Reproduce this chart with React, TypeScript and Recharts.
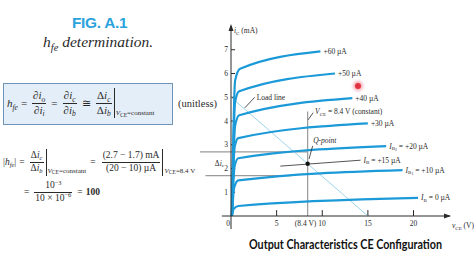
import React from "react";
import { LineChart, Line, XAxis, YAxis, ReferenceLine, ReferenceDot } from "recharts";

// collector curves, v = vCE (V), i = iC (mA)
const ib60 = [{ v: 0.1, i: 0 }, { v: 0.45, i: 5.7 }, { v: 1, i: 6.2 }, { v: 9.8, i: 6.93 }];
const ib50 = [{ v: 0.1, i: 0 }, { v: 0.45, i: 4.8 }, { v: 0.9, i: 5.25 }, { v: 11.4, i: 6.0 }];
const ib40 = [{ v: 0.1, i: 0 }, { v: 0.45, i: 3.8 }, { v: 0.9, i: 4.24 }, { v: 13.3, i: 4.96 }];
const ib30 = [{ v: 0.1, i: 0 }, { v: 0.4, i: 2.9 }, { v: 0.8, i: 3.28 }, { v: 15, i: 3.9 }];
const ib20 = [{ v: 0.1, i: 0 }, { v: 0.4, i: 2.1 }, { v: 0.8, i: 2.43 }, { v: 17, i: 2.94 }];
const ib10 = [{ v: 0.1, i: 0 }, { v: 0.35, i: 1.2 }, { v: 0.8, i: 1.5 }, { v: 18.8, i: 1.93 }];
const ib0 = [{ v: 0.1, i: 0 }, { v: 0.3, i: 0.3 }, { v: 0.8, i: 0.42 }, { v: 20.5, i: 0.76 }];
const ib15 = [{ v: 5.4, i: 2.1 }, { v: 14.2, i: 2.35 }];

const loadLine = [{ v: 0, i: 5 }, { v: 15, i: 0 }];
const qPoint = { v: 8.4, i: 2.2 };
const deltaLevels = [2.7, 1.7];
const deltaStarts = [-3.4, -2.8];
const deltaEnds = [8.4, 6.5];

const xTicks = [0, 5, 10, 15, 20];
const yTicks = [1, 2, 3, 4, 5, 6, 7];

const curveData = [ib60, ib50, ib40, ib30, ib20, ib10, ib0];
const curvePrefix = [null, null, null, null, "2", "1", ""];
const curveText = ["+60 µA", "+50 µA", "+40 µA", "+30 µA", " = +20 µA", " = +10 µA", " = 0 µA"];

const blue = "#1c9ad8";
const ink = "#2a2a2a";
const grey = "#9a9a9a";
const serif = '"Liberation Serif", "DejaVu Serif", serif';

function Sub({ children, size = "0.68em" }: any) {
  return <span style={{ fontSize: size, position: "relative", top: "0.35em" }}>{children}</span>;
}
function Sup({ children }: any) {
  return <span style={{ fontSize: "0.68em", position: "relative", top: "-0.5em" }}>{children}</span>;
}
function Frac({ num, den }: any) {
  return (
    <span style={{ display: "inline-flex", flexDirection: "column", alignItems: "stretch", margin: "0 2px" }}>
      <span style={{ lineHeight: 1.2, padding: "0 1px", textAlign: "center" }}>{num}</span>
      <span style={{ borderTop: `1px solid ${ink}`, lineHeight: 1.2, padding: "0 1px", textAlign: "center" }}>{den}</span>
    </span>
  );
}
function Eval({ h, children }: any) {
  return (
    <span style={{ display: "inline-flex", alignItems: "flex-end", height: h, borderLeft: `1px solid ${ink}`, paddingLeft: 1 }}>
      <span style={{ fontSize: 7, lineHeight: 1, marginBottom: 1 }}>{children}</span>
    </span>
  );
}
const Op = ({ children, m = 3 }: any) => <span style={{ margin: `0 ${m}px` }}>{children}</span>;

function label(lines: any) {
  return (p: any) => (
    <text x={p.cx} y={p.cy} fontFamily={serif} fontSize={7.5} fill={ink}>
      {lines}
    </text>
  );
}

function renderXTick(p: any) {
  const v = p.payload.value;
  const common = { y: p.y, dy: "0.71em", fontFamily: serif, fontSize: 7.5, fill: ink } as any;
  if (v === 10)
    return <text {...common} x={p.x + 3.5} textAnchor="end">(8.4 V) 10</text>;
  if (v === 0)
    return <text {...common} x={p.x - 3} textAnchor="middle">0</text>;
  return <text {...common} x={p.x} textAnchor="middle">{v}</text>;
}

export default function App() {
  return (
    <div style={{ position: "fixed", left: 0, top: 0, width: 474, height: 266, background: "#fff", overflow: "hidden", color: ink, fontFamily: serif }}>
      <LineChart width={474} height={266} margin={{ top: 26, right: 24, bottom: 30, left: 211 }} style={{ position: "absolute", left: 0, top: 0 }}>
        <XAxis type="number" dataKey="v" domain={[0, 24]} ticks={xTicks} interval={0} height={20}
          axisLine={{ stroke: ink }} tickLine={false} tickSize={0} tickMargin={5} tick={renderXTick} />
        <YAxis type="number" dataKey="i" domain={[0, 8]} ticks={yTicks} interval={0} width={20}
          axisLine={{ stroke: ink }} tickLine={false} tickSize={0} tickMargin={3}
          tick={{ fontSize: 7.5, fontFamily: serif, fill: ink }} />

        {/* axis extensions and tick marks */}
        <ReferenceLine segment={[{ x: 0, y: -0.55 }, { x: 0, y: 0 }]} stroke={ink} ifOverflow="visible" />
        <ReferenceLine segment={[{ x: -1, y: 0 }, { x: 0, y: 0 }]} stroke={ink} ifOverflow="visible" />
        {yTicks.map((t) => (
          <ReferenceLine key={"yt" + t} segment={[{ x: 0, y: t }, { x: 0.45, y: t }]} stroke={ink} ifOverflow="visible" />
        ))}
        {xTicks.slice(1).map((t) => (
          <ReferenceLine key={"xt" + t} segment={[{ x: t, y: 0 }, { x: t, y: 0.25 }]} stroke={ink} ifOverflow="visible" />
        ))}

        {/* delta iC construction */}
        {deltaLevels.map((lv, k) => (
          <ReferenceLine key={"d" + k} segment={[{ x: deltaStarts[k], y: lv }, { x: deltaEnds[k], y: lv }]}
            stroke={grey} strokeWidth={1.2} ifOverflow="visible" />
        ))}
        <ReferenceLine segment={[{ x: qPoint.v, y: 0 }, { x: qPoint.v, y: 4.4 }]} stroke={grey} strokeWidth={1.2} ifOverflow="visible" />

        <Line data={loadLine} dataKey="i" type="linear" stroke="#9dd5ec" strokeWidth={1} dot={false} isAnimationActive={false} />
        <Line data={ib15} dataKey="i" type="linear" stroke="#555" strokeWidth={1} dot={false} isAnimationActive={false} />
        {curveData.map((d, k) => (
          <Line key={"c" + k} data={d} dataKey="i" type="monotone" stroke={blue} strokeWidth={2.2}
            dot={false} isAnimationActive={false} />
        ))}

        {/* leaders */}
        <ReferenceLine segment={[{ x: 1.5, y: 4.55 }, { x: 2.6, y: 5.0 }]} stroke={ink} strokeWidth={0.8} ifOverflow="visible" />
        <ReferenceLine segment={[{ x: 8.45, y: 4.05 }, { x: 9.0, y: 4.35 }]} stroke={ink} strokeWidth={0.8} ifOverflow="visible" />
        <ReferenceLine segment={[{ x: 8.55, y: 2.4 }, { x: 8.95, y: 2.95 }]} stroke={ink} strokeWidth={0.8} ifOverflow="visible" />

        <ReferenceDot x={qPoint.v} y={qPoint.i} r={2.2} fill="#111" stroke="none" ifOverflow="visible" />

        {curveData.map((d, k) => {
          const last = d[d.length - 1];
          const pre = curvePrefix[k];
          return (
            <ReferenceDot key={"l" + k} x={last.v} y={last.i} ifOverflow="visible"
              shape={(p: any) => (
                <text x={p.cx + 3} y={p.cy + 2.5} fontFamily={serif} fontSize={7.5} fill={ink}>
                  {pre !== null && <tspan fontStyle="italic">I</tspan>}
                  {pre !== null && <tspan fontSize={5} dy={1.5}>B</tspan>}
                  {pre ? <tspan fontSize={4} dy={1}>{pre}</tspan> : null}
                  <tspan dy={pre === null ? 0 : pre ? -2.5 : -1.5}>{curveText[k]}</tspan>
                </text>
              )} />
          );
        })}
        <ReferenceDot x={ib15[1].v} y={ib15[1].i} ifOverflow="visible"
          shape={(p: any) => (
            <text x={p.cx + 3} y={p.cy + 2.5} fontFamily={serif} fontSize={7.5} fill={ink}>
              <tspan fontStyle="italic">I</tspan><tspan fontSize={5} dy={1.5}>B</tspan><tspan dy={-1.5}> = +15 µA</tspan>
            </text>
          )} />

        <ReferenceDot x={2.7} y={5.0} ifOverflow="visible" shape={label(<tspan dx={1} dy={2.5}>Load line</tspan>)} />
        <ReferenceDot x={9.1} y={4.4} ifOverflow="visible" shape={label(
          <>
            <tspan dx={1} dy={2.5} fontStyle="italic">V</tspan><tspan fontSize={5} dy={1.5}>CE</tspan>
            <tspan dy={-1.5}> = 8.4 V (constant)</tspan>
          </>
        )} />
        <ReferenceDot x={9.0} y={3.0} ifOverflow="visible" shape={label(
          <tspan dx={0} dy={-2} fontStyle="italic">Q-point</tspan>
        )} />
        <ReferenceDot x={0} y={2.2} ifOverflow="visible" shape={(p: any) => (
          <text x={p.cx - 7} y={p.cy + 2} textAnchor="end" fontFamily={serif} fontSize={7.5} fill={ink}>
            Δ<tspan fontStyle="italic">i</tspan><tspan fontSize={5} dy={1.5}>c</tspan>
          </text>
        )} />

        {/* arrows + axis titles */}
        <ReferenceDot x={0} y={8} ifOverflow="visible" shape={(p: any) => (
          <g>
            <path d={`M${p.cx},${p.cy - 2} L${p.cx - 2.5},${p.cy + 5} L${p.cx + 2.5},${p.cy + 5} Z`} fill={ink} />
            <text x={p.cx + 3} y={p.cy + 7} fontFamily={serif} fontSize={7.5} fill={ink}>
              <tspan fontStyle="italic">i</tspan><tspan fontSize={5} dy={1.5}>C</tspan><tspan dy={-1.5}> (mA)</tspan>
            </text>
          </g>
        )} />
        <ReferenceDot x={24} y={0} ifOverflow="visible" shape={(p: any) => (
          <g>
            <path d={`M${p.cx + 1},${p.cy} L${p.cx - 6},${p.cy - 2.5} L${p.cx - 6},${p.cy + 2.5} Z`} fill={ink} />
            <text x={p.cx + 2} y={p.cy + 12} fontFamily={serif} fontSize={7.5} fill={ink}>
              <tspan fontStyle="italic">v</tspan><tspan fontSize={5} dy={1.5}>CE</tspan><tspan dy={-1.5}> (V)</tspan>
            </text>
          </g>
        )} />
      </LineChart>

      {/* left side: title and equations */}
      <div style={{ position: "absolute", left: 72, top: 15, fontFamily: '"Liberation Sans", Arial, sans-serif', fontWeight: 700, fontSize: 15.4, lineHeight: 1, color: "#2aa3dd", letterSpacing: -0.3 }}>
        FIG. A.1
      </div>
      <div style={{ position: "absolute", left: 43, top: 34, fontSize: 15.5, lineHeight: 1, fontStyle: "italic" }}>
        h<Sub>fe</Sub> determination.
      </div>

      <div style={{ position: "absolute", left: 3, top: 83, width: 168, height: 40, background: "#e4eef8", border: "1px solid #6f93b8" }} />
      <div style={{ position: "absolute", left: 7, top: 86, height: 34, display: "flex", alignItems: "center", fontSize: 11, whiteSpace: "nowrap" }}>
        <i>h</i><i><Sub>fe</Sub></i>
        <Op>=</Op>
        <Frac num={<span>∂<i>i</i><Sub><i>o</i></Sub></span>} den={<span>∂<i>i</i><Sub><i>i</i></Sub></span>} />
        <Op>=</Op>
        <Frac num={<span>∂<i>i</i><Sub><i>c</i></Sub></span>} den={<span>∂<i>i</i><Sub><i>b</i></Sub></span>} />
        <Op>≅</Op>
        <Frac num={<span>Δ<i>i</i><Sub><i>c</i></Sub></span>} den={<span>Δ<i>i</i><Sub><i>b</i></Sub></span>} />
        <Eval h={30}><i>V</i><Sub size="0.8em">CE</Sub>=constant</Eval>
      </div>
      <div style={{ position: "absolute", left: 178, top: 99, fontSize: 10.5, lineHeight: 1 }}>(unitless)</div>

      <div style={{ position: "absolute", left: 3, top: 146, height: 32, display: "flex", alignItems: "center", fontSize: 9.5, whiteSpace: "nowrap" }}>
        |<i>h</i><i><Sub>fe</Sub></i>|
        <Op>=</Op>
        <Frac num={<span>Δ<i>i</i><Sub><i>c</i></Sub></span>} den={<span>Δ<i>i</i><Sub><i>b</i></Sub></span>} />
        <Eval h={27}><i>V</i><Sub size="0.8em">CE</Sub>=constant</Eval>
        <Op m={4}>=</Op>
        <Frac num={<span>(2.7 − 1.7) mA</span>} den={<span>(20 − 10) µA</span>} />
        <Eval h={27}><i>V</i><Sub size="0.8em">CE</Sub>=8.4 V</Eval>
      </div>
      <div style={{ position: "absolute", left: 21, top: 178, height: 28, display: "flex", alignItems: "center", fontSize: 9.5, whiteSpace: "nowrap" }}>
        <Op>=</Op>
        <Frac num={<span>10<Sup>−3</Sup></span>} den={<span>10 × 10<Sup>−6</Sup></span>} />
        <Op>=</Op>
        <b>100</b>
      </div>

      <span style={{ position: "absolute", left: 355, top: 83, width: 6, height: 6, borderRadius: 3, background: "#e2323f", boxShadow: "0 0 3px 2px rgba(240,120,140,0.6)" }} />

      <svg width={474} height={266} style={{ position: "absolute", left: 0, top: 0, pointerEvents: "none" }}>
        <text x={249} y={248.5} textLength={193} lengthAdjust="spacingAndGlyphs" fontFamily="Lato, 'Open Sans', sans-serif" fontWeight={700} fontSize={12.5} fill="#111">
          Output Characteristics CE Configuration
        </text>
      </svg>
    </div>
  );
}
